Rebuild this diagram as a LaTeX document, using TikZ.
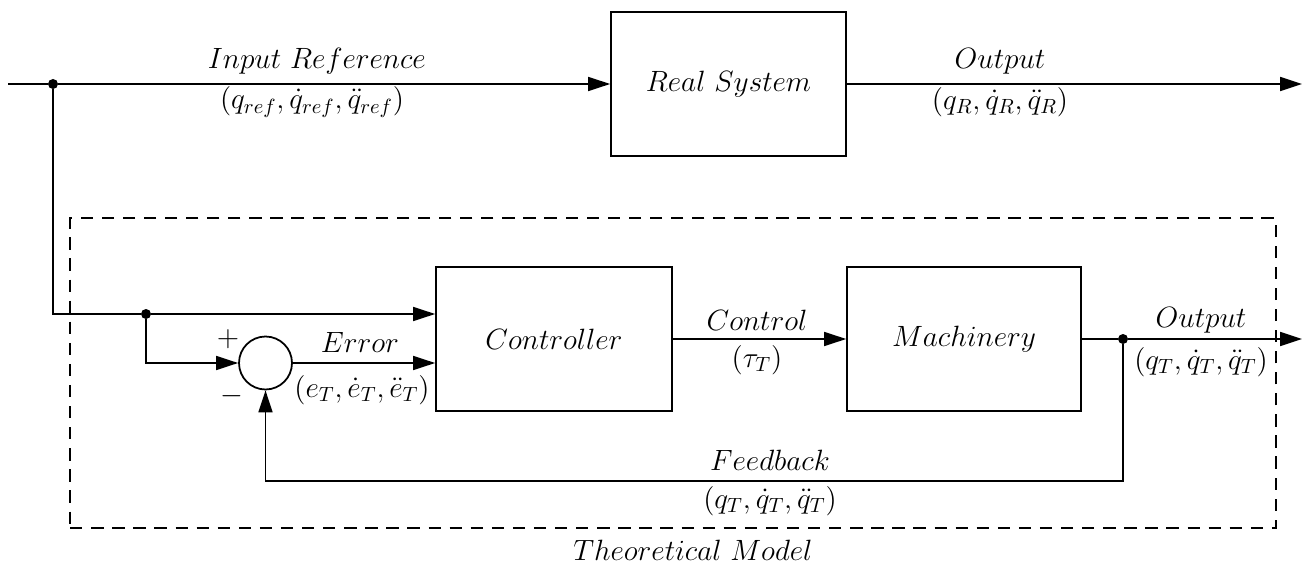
\documentclass[tikz,border=0pt]{standalone}
\usepackage{fix-cm}
\usepackage{amsmath}
\usetikzlibrary{arrows.meta,calc}
\tikzset{
  txt/.style={font=\fontsize{16.7}{20}\selectfont},
  blk/.style={draw, line width=1pt, rectangle, inner sep=0pt, txt},
  sumnode/.style={draw, line width=1pt, circle, minimum size=1.06cm, inner sep=0pt},
  wire/.style={line width=1pt},
  arr/.style={line width=1pt, -{Triangle[length=0.44cm,width=0.28cm]}},
  lbl/.style={inner sep=0pt, txt},
  jdot/.style={circle, fill=black, inner sep=0pt, minimum size=0.2cm},
  frame/.style={line width=0.8pt, dash pattern=on 7pt off 5pt}
}
\begin{document}
\begin{tikzpicture}[x=0.02cm, y=-0.02cm]
\useasboundingbox (0,0) rectangle (1304,567);
% top branch
\node[blk, minimum width=4.7cm, minimum height=2.88cm] (rs) at (728.5,84) {$Real\ System$};
\coordinate (in) at (8,84);
\node[jdot] (j1) at (53,84) {};
\coordinate (rout) at (1302,84);
\draw[wire] (in) -- (j1);
\draw[arr] (j1) -- (rs.west);
\draw[arr] (rs.east) -- (rout);
\node[lbl] (l1) at (317,61) {$Input\ Reference$};
\node[lbl] (l2) at (312,102) {$(q_{ref},\dot q_{ref},\ddot q_{ref})$};
\node[lbl] (l3) at (1000,61) {$Output$};
\node[lbl] (l4) at (1000,102) {$(q_R,\dot q_R,\ddot q_R)$};
% theoretical model frame
\node[frame, draw, rectangle, minimum width=24.12cm, minimum height=6.2cm, inner sep=0pt] (tm) at (673,373) {};
\node[lbl] (l5) at (693,550) {$Theoretical\ Model$};
% lower loop
\node[blk, minimum width=4.72cm, minimum height=2.88cm] (ctrl) at (554,339) {$Controller$};
\node[blk, minimum width=4.68cm, minimum height=2.88cm] (mach) at (964,339) {$Machinery$};
\node[sumnode] (sum) at (265.5,363) {};
\coordinate (c1) at (53,314);
\node[jdot] (j2) at (146,314) {};
\coordinate (c2) at (146,363);
\node[jdot] (j3) at (1123,339) {};
\coordinate (tout) at (1302,339);
\coordinate (fbr) at (1123,481);
\coordinate (fbl) at (265.5,481);
\draw[wire] (j1) -- (c1) -- (j2);
\draw[arr] (j2) -- (j2 -| ctrl.west);
\draw[arr] (j2) -- (c2) -- (sum.west);
\draw[arr] (sum.east) -- (sum.east -| ctrl.west);
\draw[arr] (ctrl.east) -- (mach.west);
\draw[wire] (mach.east) -- (j3);
\draw[arr] (j3) -- (tout);
\draw[arr] (j3) -- (fbr) -- (fbl) -- (sum.south);
\node[lbl] (plus) at (228,339) {$+$};
\node[lbl] (minus) at (232,396) {$-$};
\node[lbl] (l6) at (360,342) {$Error$};
\node[lbl] (l7) at (362,390) {$(e_T,\dot e_T,\ddot e_T)$};
\node[lbl] (l8) at (757,320) {$Control$};
\node[lbl] (l9) at (757,360) {$(\tau_T)$};
\node[lbl] (l10) at (1201,320) {$Output$};
\node[lbl] (l11) at (1201,362) {$(q_T,\dot q_T,\ddot q_T)$};
\node[lbl] (l12) at (770,460) {$Feedback$};
\node[lbl] (l13) at (770,501) {$(q_T,\dot q_T,\ddot q_T)$};
\end{tikzpicture}
\end{document}
